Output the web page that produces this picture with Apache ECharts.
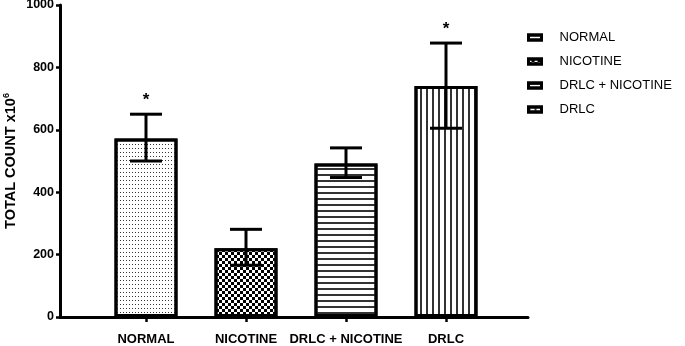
<!DOCTYPE html>
<html>
<head>
<meta charset="utf-8">
<script src="https://cdn.jsdelivr.net/npm/echarts@6/dist/echarts.min.js"></script>
<style>html,body{margin:0;padding:0;background:#fff}#c{width:685px;height:346px}</style>
</head>
<body>
<div id="c"></div>
<script>
const categories = ['NORMAL', 'NICOTINE', 'DRLC + NICOTINE', 'DRLC'];
const means = [572, 220, 492, 740];
const errLow = [500, 166, 447, 605];
const errHigh = [650, 281, 542, 878];
const significance = ['*', '', '', '*'];
const yTicks = [0, 200, 400, 600, 800, 1000];

const FONT = 'Liberation Sans';
const decals = [
  { symbol: 'rect', symbolSize: 1, dashArrayX: [1, 2], dashArrayY: [1, 2.7], color: '#333' },
  { symbol: 'rect', symbolSize: 1, dashArrayX: [[3, 3], [0, 3, 3, 0]], dashArrayY: [3, 0], color: '#000' },
  { symbol: 'rect', symbolSize: 1, dashArrayX: [1, 0], dashArrayY: [2, 3.5], color: '#333' },
  { symbol: 'rect', symbolSize: 1, dashArrayX: [2, 3.5], dashArrayY: [1, 0], color: '#333' }
];

const barSeries = categories.map((name, i) => ({
  name: name,
  type: 'bar',
  barWidth: 63,
  barGap: '-100%',
  data: [[i, means[i]]],
  itemStyle: { color: '#fff', borderColor: '#000', borderWidth: 3, decal: decals[i] },
  z: 2
}));

const errSeries = {
  type: 'custom',
  z: 5,
  data: categories.map((c, i) => [i, errLow[i], errHigh[i]]),
  renderItem: function (params, api) {
    const x = api.value(0);
    const lo = api.coord([x, api.value(1)]);
    const hi = api.coord([x, api.value(2)]);
    const half = 16;
    const st = { stroke: '#000', lineWidth: 3 };
    const children = [
      { type: 'line', shape: { x1: hi[0], y1: hi[1], x2: lo[0], y2: lo[1] }, style: st },
      { type: 'line', shape: { x1: hi[0] - half, y1: hi[1], x2: hi[0] + half, y2: hi[1] }, style: st },
      { type: 'line', shape: { x1: lo[0] - half, y1: lo[1], x2: lo[0] + half, y2: lo[1] }, style: st }
    ];
    const s = significance[params.dataIndex];
    if (s) {
      children.push({ type: 'text', style: { text: s, x: hi[0], y: hi[1] - 5, align: 'center', verticalAlign: 'bottom', font: 'bold 17px ' + FONT, fill: '#000' } });
    }
    return { type: 'group', children: children };
  }
};

const chart = echarts.init(document.getElementById('c'), null, { renderer: 'canvas' });
chart.setOption({
  animation: false,
  backgroundColor: '#fff',
  grid: { left: 60, top: 5, bottom: 29, right: 157, containLabel: false, outerBoundsMode: 'none' },
  legend: {
    orient: 'vertical',
    left: 527,
    top: 31,
    padding: 0,
    itemWidth: 13,
    itemHeight: 5,
    itemGap: 11,
    icon: 'rect',
    itemStyle: { borderWidth: 3, borderColor: '#000' },
    textStyle: { fontFamily: FONT, fontSize: 13, color: '#000', padding: [0, 0, 0, 13] },
    data: categories
  },
  xAxis: {
    type: 'value',
    min: -0.86,
    max: 3.82,
    splitLine: { show: false },
    axisLine: { show: true, onZero: false, lineStyle: { color: '#000', width: 3 } },
    axisTick: { show: true, customValues: [0, 1, 2, 3], length: 5, lineStyle: { color: '#000', width: 2.5 } },
    axisLabel: {
      customValues: [0, 1, 2, 3],
      formatter: v => categories[Math.round(v)],
      fontFamily: FONT, fontWeight: 'bold', fontSize: 13, color: '#000', margin: 16
    }
  },
  yAxis: {
    type: 'value',
    min: 0,
    max: 1000,
    interval: 200,
    splitLine: { show: false },
    axisLine: { show: true, onZero: false, lineStyle: { color: '#000', width: 3 } },
    axisTick: { show: true, length: 4, lineStyle: { color: '#000', width: 2.5 } },
    axisLabel: {
      formatter: v => yTicks.indexOf(v) >= 0 ? String(v) : '',
      fontFamily: FONT, fontWeight: 'bold', fontSize: 12.5, color: '#000', margin: 6
    },
    name: '{a|TOTAL COUNT x10}{b|6}',
    nameLocation: 'middle',
    nameGap: 40,
    nameMoveOverlap: false,
    nameRotate: 90,
    nameTextStyle: {
      rich: {
        a: { fontFamily: FONT, fontWeight: 'bold', fontSize: 14.5, color: '#000' },
        b: { fontFamily: FONT, fontWeight: 'bold', fontSize: 9, color: '#000', padding: [0, 0, 9, 0] }
      }
    }
  },
  series: barSeries.concat([errSeries])
});
</script>
</body>
</html>
